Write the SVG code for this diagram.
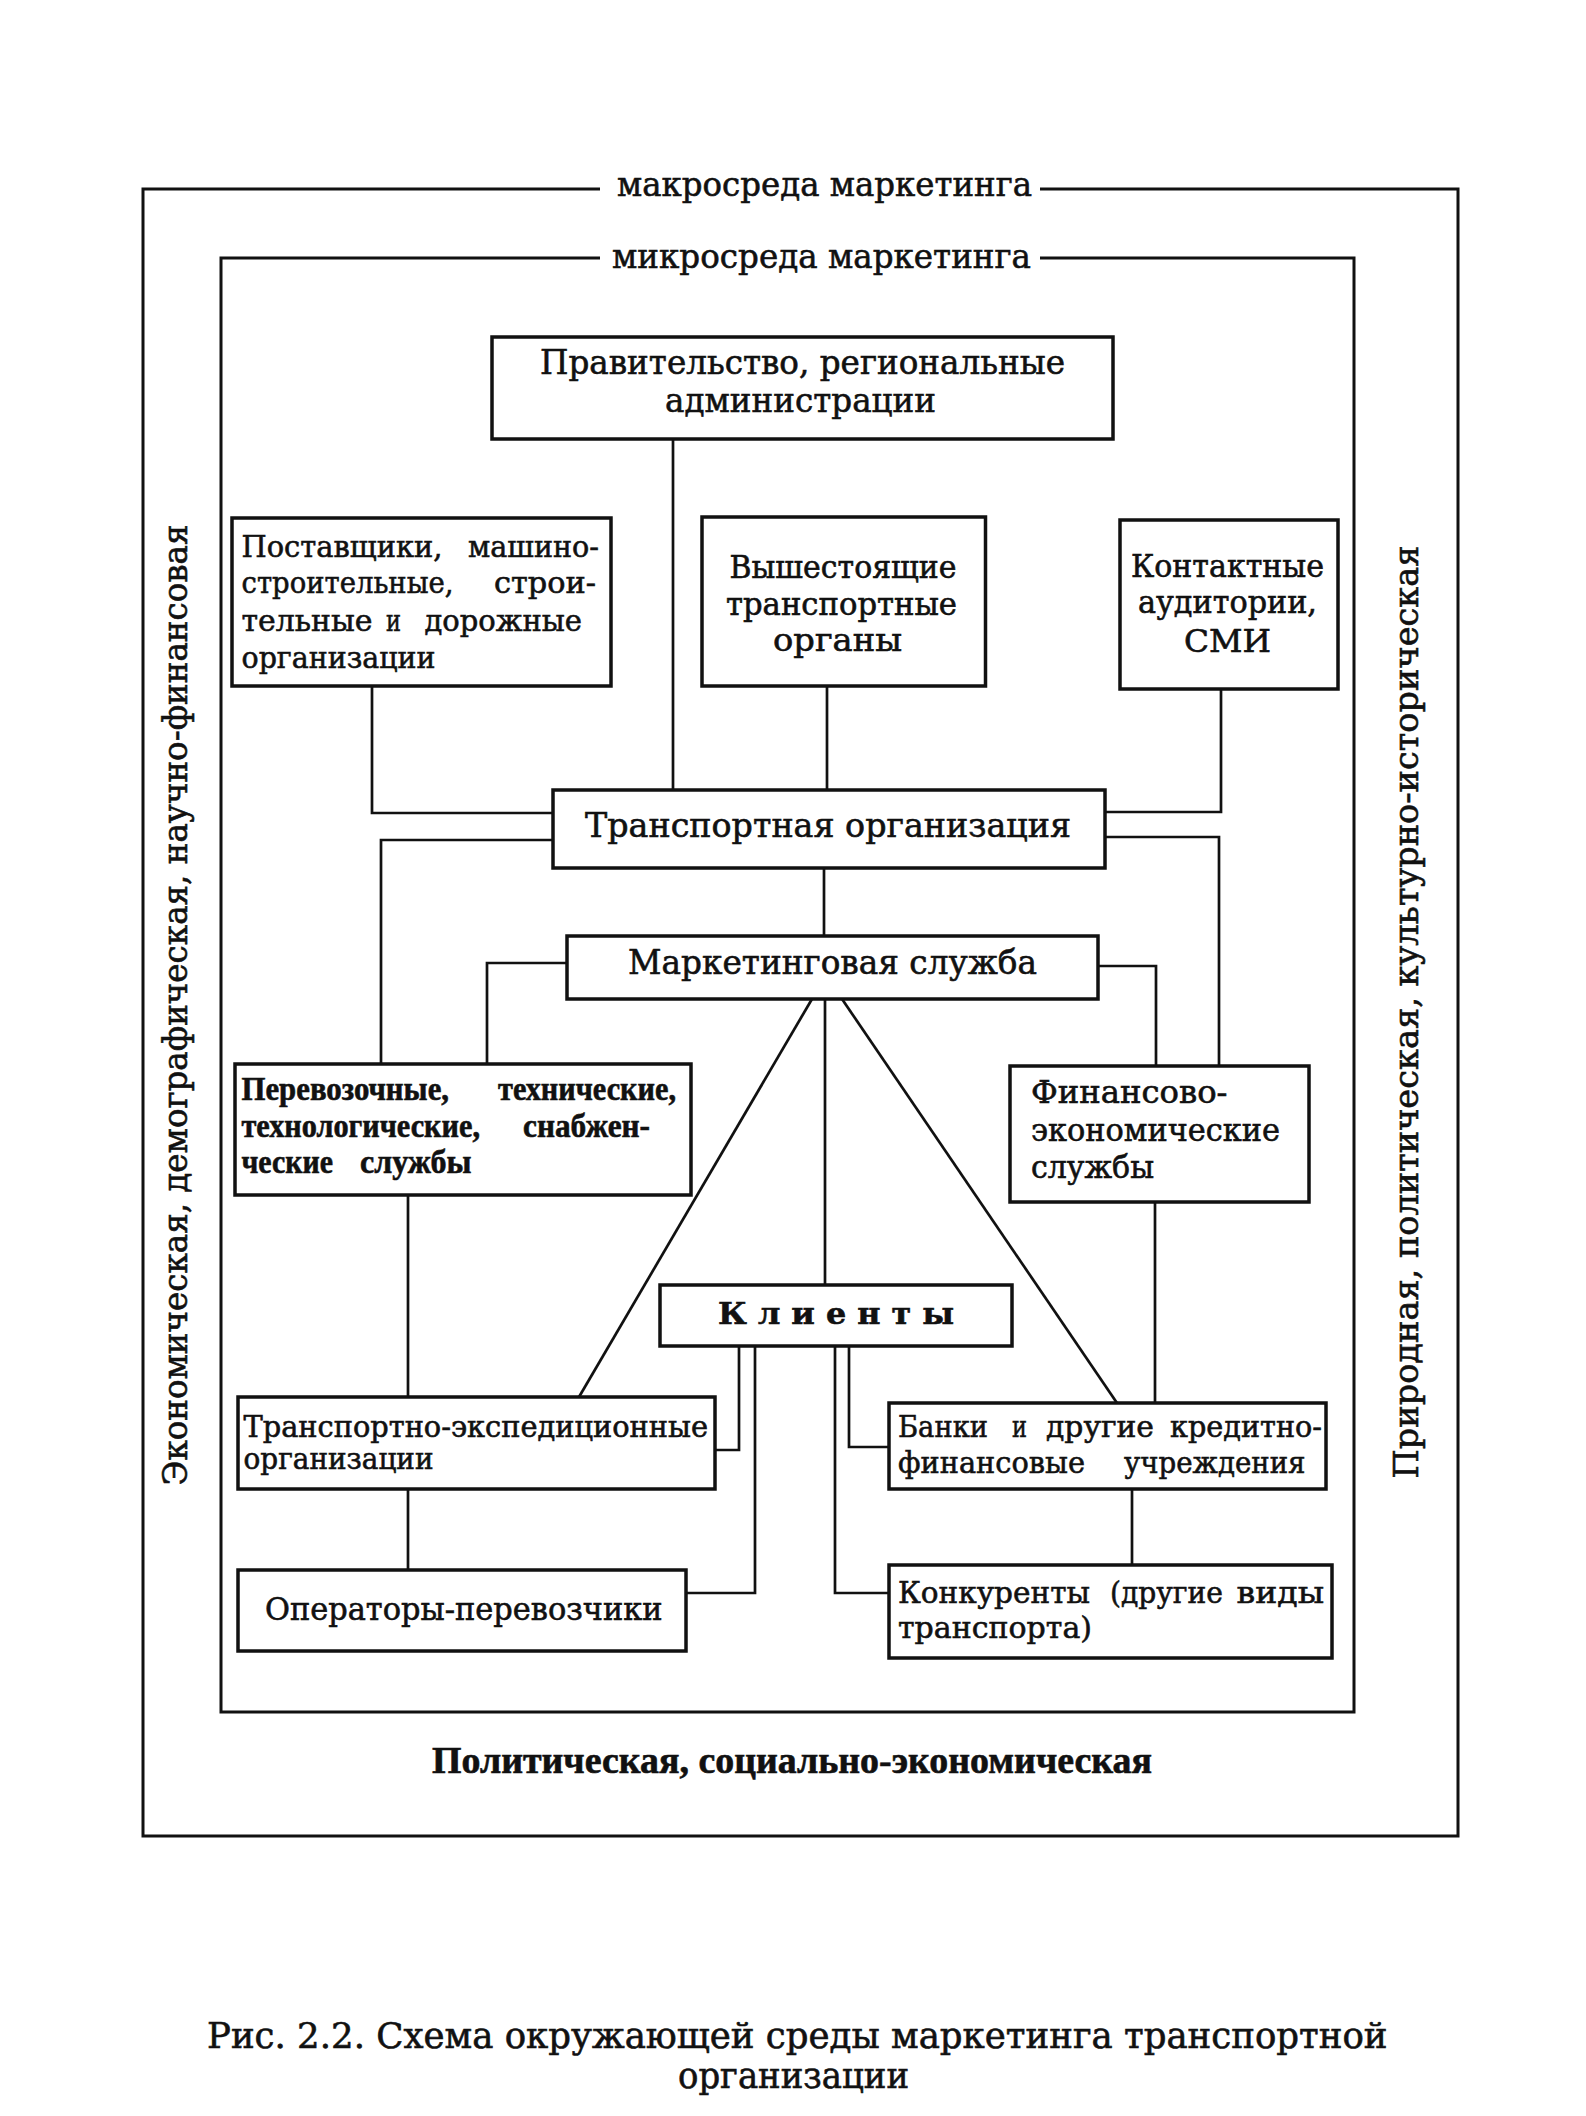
<svg xmlns="http://www.w3.org/2000/svg" width="1586" height="2116" viewBox="0 0 1586 2116">
<style>
text{font-family:"DejaVu Serif","Liberation Serif",serif;fill:#111;stroke:#111;stroke-width:0.6}
.box{fill:#fff;stroke:#111;stroke-width:3.5}
.frame{fill:none;stroke:#111;stroke-width:3}
.conn{fill:none;stroke:#111;stroke-width:2.7}
.tm{font-family:"Liberation Serif","DejaVu Serif",serif;font-weight:bold}
.f28{font-size:29px}.f29{font-size:30px}.f30{font-size:31px}.f32{font-size:33px}.f33{font-size:34px}.f34{font-size:35px}
</style>
<rect width="1586" height="2116" fill="#fff"/>

<g id="macro-env">
<path class="frame" d="M600,189 H143 V1836 H1458 V189 H1040"/>
<text class="f33" x="617" y="196" textLength="415" lengthAdjust="spacingAndGlyphs">макросреда маркетинга</text>
<text class="f33" transform="translate(187,1005) rotate(-90)" text-anchor="middle" textLength="961" lengthAdjust="spacingAndGlyphs">Экономическая, демографическая, научно-финансовая</text>
<text class="f33" transform="translate(1418,1012) rotate(-90)" text-anchor="middle" textLength="933" lengthAdjust="spacingAndGlyphs">Природная, политическая, культурно-историческая</text>
<text class="tm" x="432" y="1773" font-size="37" textLength="720" lengthAdjust="spacingAndGlyphs">Политическая, социально-экономическая</text>
</g>

<g id="micro-env">
<path class="frame" d="M600,258 H221 V1712 H1354 V258 H1040"/>
<text class="f33" x="612" y="268" textLength="419" lengthAdjust="spacingAndGlyphs">микросреда маркетинга</text>
</g>

<g id="connectors">
<path class="conn" d="M673,439 V790"/>
<path class="conn" d="M827,686 V790"/>
<path class="conn" d="M372,686 V813 H553"/>
<path class="conn" d="M1221,689 V812 H1105"/>
<path class="conn" d="M553,840 H381 V1064"/>
<path class="conn" d="M1105,837 H1219 V1066"/>
<path class="conn" d="M824,868 V936"/>
<path class="conn" d="M567,963 H487 V1064"/>
<path class="conn" d="M1098,966 H1156 V1066"/>
<path class="conn" d="M825,999 V1285"/>
<path class="conn" d="M812,999 L579,1397"/>
<path class="conn" d="M842,999 L1117,1403"/>
<path class="conn" d="M408,1195 V1397"/>
<path class="conn" d="M1155,1202 V1403"/>
<path class="conn" d="M408,1489 V1570"/>
<path class="conn" d="M1132,1489 V1565"/>
<path class="conn" d="M739,1346 V1450 H715"/>
<path class="conn" d="M755,1346 V1593 H686"/>
<path class="conn" d="M835,1346 V1593 H889"/>
<path class="conn" d="M849,1346 V1447 H889"/>
</g>

<g id="government">
<rect class="box" x="492" y="337" width="621" height="102"/>
<text class="f32" x="540" y="374" textLength="525" lengthAdjust="spacingAndGlyphs">Правительство, региональные</text>
<text class="f32" x="665" y="412" textLength="271" lengthAdjust="spacingAndGlyphs">администрации</text>
</g>

<g id="suppliers">
<rect class="box" x="232" y="518" width="379" height="168"/>
<text class="f29" x="241.5" y="557" textLength="201" lengthAdjust="spacingAndGlyphs">Поставщики,</text>
<text class="f29" x="468" y="557" textLength="131" lengthAdjust="spacingAndGlyphs">машино-</text>
<text class="f29" x="241.5" y="593" textLength="212" lengthAdjust="spacingAndGlyphs">строительные,</text>
<text class="f29" x="494" y="593" textLength="102" lengthAdjust="spacingAndGlyphs">строи-</text>
<text class="f29" x="241.5" y="631" textLength="131" lengthAdjust="spacingAndGlyphs">тельные</text>
<text class="f29" x="386" y="631" textLength="15" lengthAdjust="spacingAndGlyphs">и</text>
<text class="f29" x="424.5" y="631" textLength="157.5" lengthAdjust="spacingAndGlyphs">дорожные</text>
<text class="f29" x="241.5" y="668" textLength="194" lengthAdjust="spacingAndGlyphs">организации</text>
</g>

<g id="higher-transport-bodies">
<rect class="box" x="702" y="517" width="283.5" height="169"/>
<text class="f30" x="729.5" y="578" textLength="227" lengthAdjust="spacingAndGlyphs">Вышестоящие</text>
<text class="f30" x="726" y="615" textLength="231" lengthAdjust="spacingAndGlyphs">транспортные</text>
<text class="f30" x="773" y="651" textLength="129" lengthAdjust="spacingAndGlyphs">органы</text>
</g>

<g id="contact-audiences">
<rect class="box" x="1120" y="520" width="218" height="169"/>
<text class="f30" x="1131" y="577" textLength="193" lengthAdjust="spacingAndGlyphs">Контактные</text>
<text class="f30" x="1138" y="613" textLength="179" lengthAdjust="spacingAndGlyphs">аудитории,</text>
<text class="f30" x="1184" y="652" textLength="87" lengthAdjust="spacingAndGlyphs">СМИ</text>
</g>

<g id="transport-organization">
<rect class="box" x="553" y="790" width="552" height="78"/>
<text class="f32" x="585" y="837" textLength="486" lengthAdjust="spacingAndGlyphs">Транспортная  организация</text>
</g>

<g id="marketing-service">
<rect class="box" x="567" y="936" width="531" height="63"/>
<text class="f32" x="628" y="974" textLength="409" lengthAdjust="spacingAndGlyphs">Маркетинговая  служба</text>
</g>

<g id="operational-services">
<rect class="box" x="235" y="1064" width="456" height="131"/>
<text class="tm f32" x="241.5" y="1100" textLength="207.5" lengthAdjust="spacingAndGlyphs">Перевозочные,</text>
<text class="tm f32" x="498" y="1100" textLength="178" lengthAdjust="spacingAndGlyphs">технические,</text>
<text class="tm f32" x="241.5" y="1137" textLength="238.5" lengthAdjust="spacingAndGlyphs">технологические,</text>
<text class="tm f32" x="523" y="1137" textLength="127" lengthAdjust="spacingAndGlyphs">снабжен-</text>
<text class="tm f32" x="241.5" y="1173" textLength="91.5" lengthAdjust="spacingAndGlyphs">ческие</text>
<text class="tm f32" x="360" y="1173" textLength="111.5" lengthAdjust="spacingAndGlyphs">службы</text>
</g>

<g id="financial-services">
<rect class="box" x="1010" y="1066" width="299" height="136"/>
<text class="f30" x="1031" y="1103" textLength="196.5" lengthAdjust="spacingAndGlyphs">Финансово-</text>
<text class="f30" x="1031" y="1141" textLength="249" lengthAdjust="spacingAndGlyphs">экономические</text>
<text class="f30" x="1031" y="1178" textLength="123" lengthAdjust="spacingAndGlyphs">службы</text>
</g>

<g id="clients">
<rect class="box" x="660" y="1285" width="352" height="61"/>
<text class="f29" x="718" y="1324" font-weight="bold" textLength="236" lengthAdjust="spacingAndGlyphs">К л и е н т ы</text>
</g>

<g id="forwarding-organizations">
<rect class="box" x="238" y="1397" width="477" height="92"/>
<text class="f28" x="243.5" y="1437" textLength="464.5" lengthAdjust="spacingAndGlyphs">Транспортно-экспедиционные</text>
<text class="f28" x="243.5" y="1469" textLength="190" lengthAdjust="spacingAndGlyphs">организации</text>
</g>

<g id="carrier-operators">
<rect class="box" x="238" y="1570" width="448" height="81"/>
<text class="f30" x="265" y="1620" textLength="397.5" lengthAdjust="spacingAndGlyphs">Операторы-перевозчики</text>
</g>

<g id="banks">
<rect class="box" x="889" y="1403" width="437" height="86"/>
<text class="f29" x="898" y="1437" textLength="90" lengthAdjust="spacingAndGlyphs">Банки</text>
<text class="f29" x="1012" y="1437" textLength="15" lengthAdjust="spacingAndGlyphs">и</text>
<text class="f29" x="1046" y="1437" textLength="108" lengthAdjust="spacingAndGlyphs">другие</text>
<text class="f29" x="1170" y="1437" textLength="152" lengthAdjust="spacingAndGlyphs">кредитно-</text>
<text class="f29" x="898" y="1473" textLength="187" lengthAdjust="spacingAndGlyphs">финансовые</text>
<text class="f29" x="1124" y="1473" textLength="181.5" lengthAdjust="spacingAndGlyphs">учреждения</text>
</g>

<g id="competitors">
<rect class="box" x="889" y="1565" width="443" height="93"/>
<text class="f29" x="898" y="1603" textLength="192" lengthAdjust="spacingAndGlyphs">Конкуренты</text>
<text class="f29" x="1110" y="1603" textLength="113" lengthAdjust="spacingAndGlyphs">(другие</text>
<text class="f29" x="1236.5" y="1603" textLength="87.5" lengthAdjust="spacingAndGlyphs">виды</text>
<text class="f29" x="898" y="1638" textLength="194" lengthAdjust="spacingAndGlyphs">транспорта)</text>
</g>

<g id="caption">
<text class="f34" x="207" y="2048" textLength="1180.5" lengthAdjust="spacingAndGlyphs">Рис. 2.2. Схема окружающей среды маркетинга транспортной</text>
<text class="f34" x="678" y="2088" textLength="231" lengthAdjust="spacingAndGlyphs">организации</text>
</g>
</svg>
